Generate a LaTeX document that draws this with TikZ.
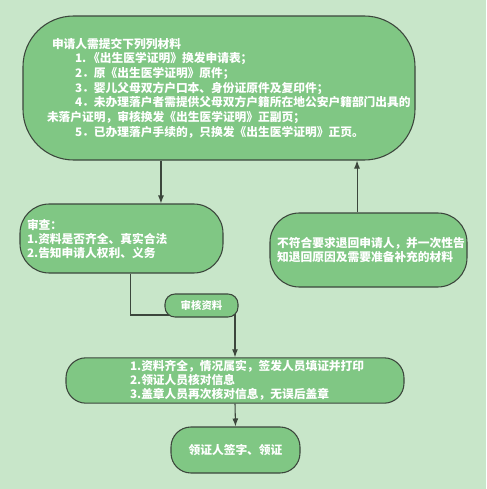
\documentclass[tikz,border=0pt]{standalone}
\usepackage{fontspec}
\setmainfont{Noto Sans CJK SC}
\usetikzlibrary{arrows.meta}
\definecolor{bgGreen}{HTML}{C8E6C9}
\definecolor{boxGreen}{HTML}{80C784}
\definecolor{edgeGray}{HTML}{3C463C}

\begin{document}
\begin{tikzpicture}[x=0.75pt,y=-0.75pt]
	 \tikzstyle{box}=[draw=edgeGray,line width=0.8pt,fill=boxGreen,text=white,inner sep=2pt,font=\bfseries\fontsize{8.8}{10.5}\selectfont]
	 \tikzstyle{link}=[draw=edgeGray,line width=0.8pt,-{Latex[length=6pt,width=4.5pt]}]
	 \fill[bgGreen] (0,0) rectangle (486,489);
	 \node[box,rounded corners=38pt,minimum width=294pt,minimum height=108pt,text width=258pt,align=left,font=\bfseries\fontsize{8.8}{11}\selectfont] (apply) at (219,88) {\hspace*{3.75pt}申请人需提交下列列材料\\
	 \hspace*{21pt}1.\,《出生医学证明》换发申请表；\\
	 \hspace*{21pt}2．原《出生医学证明》原件；\\
	 \hspace*{21pt}3．婴儿父母双方户口本、身份证原件及复印件；\\
	 \hspace*{21pt}4．未办理落户者需提供父母双方户籍所在地公安户籍部门出具的\\
	 未落户证明，审核换发《出生医学证明》正副页；\\
	 \hspace*{21pt}5．已办理落户手续的，只换发《出生医学证明》正页。};
	 \node[box,rounded corners=22pt,minimum width=152.25pt,minimum height=51.75pt,text width=141.75pt,align=left] (check) at (121.5,238.5) {审查：\\1.资料是否齐全、真实合法\\2.告知申请人权利、义务};
	 \node[box,rounded corners=22pt,minimum width=147.75pt,minimum height=55.5pt,text width=137pt,align=left] (reject) at (368.5,250) {不符合要求退回申请人，并一次性告\\知退回原因及需要准备补充的材料};
	 \node[box,rounded corners=15pt,minimum width=253.5pt,minimum height=33.75pt,text width=157.5pt,align=left] (result) at (235,380.5) {1.资料齐全，情况属实，签发人员填证并打印\\2.领证人员核对信息\\3.盖章人员再次核对信息，无误后盖章};
	 \node[box,rounded corners=15pt,minimum width=96.75pt,minimum height=34.5pt] (finish) at (235.5,450) {领证人签字、领证};
	 \coordinate (bend) at (235,315);
	 \draw[link] ([xshift=29.6pt]check.north |- apply.south) -- ([xshift=29.6pt]check.north);
	 \draw[link] ([xshift=-8.6pt]reject.north) -- ([xshift=-8.6pt]reject.north |- apply.south);
	 \draw[link] ([xshift=6.4pt]check.south) |- (bend) -- (result.north);
	 \node[box,rounded corners=7.5pt,minimum width=54.75pt,minimum height=17.25pt,font=\bfseries\fontsize{7.8}{9}\selectfont] (audit) at (201.5,305.5) {审核资料};
	 \draw[link] (result.south) -- (finish.north);
\end{tikzpicture}
\end{document}
